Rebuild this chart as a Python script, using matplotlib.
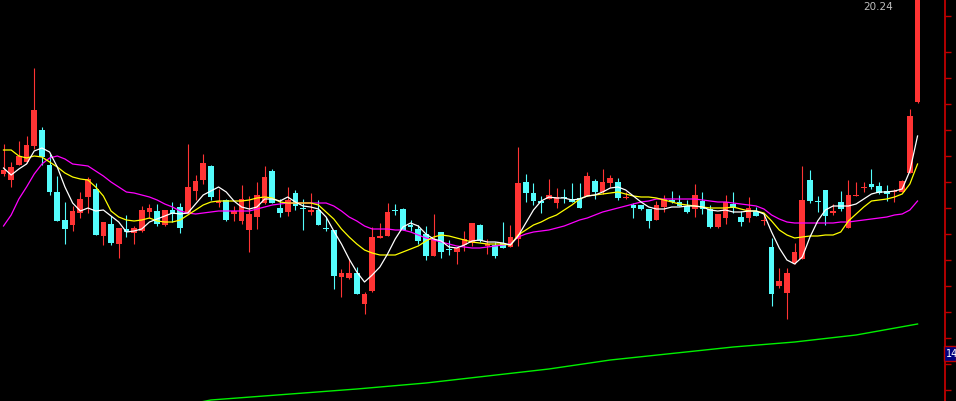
import numpy as np
import matplotlib
matplotlib.use("Agg")
import matplotlib.pyplot as plt
from matplotlib.patches import Rectangle

# ---------------- data ----------------
opens = [16.50, 16.38, 16.68, 16.74, 17.06, 17.38, 16.68, 16.14, 15.58, 15.48,
         15.72, 16.04, 16.20, 15.26, 15.50, 15.10, 15.40, 15.32, 15.36, 15.74,
         15.76, 15.48, 15.78, 15.84, 15.72, 16.16, 16.38, 16.66, 15.92, 15.98,
         15.70, 15.56, 15.38, 15.64, 15.92, 16.56, 15.82, 15.74, 16.12, 15.82,
         15.74, 15.78, 15.42, 15.38, 14.44, 14.42, 14.52, 13.90, 14.16, 15.22,
         15.26, 15.78, 15.80, 15.48, 15.40, 15.30, 14.86, 15.34, 15.00, 14.94,
         15.08, 15.12, 15.48, 15.06, 15.08, 15.12, 15.04, 15.20, 16.34, 16.12,
         15.96, 16.00, 15.92, 16.04, 16.00, 16.02, 16.06, 16.36, 16.14, 16.32,
         16.34, 16.02, 15.88, 15.88, 15.80, 15.58, 15.84, 15.98, 15.94, 15.86,
         15.80, 15.96, 15.80, 15.44, 15.62, 15.90, 15.64, 15.62, 15.76, 15.56,
         15.04, 14.26, 14.12, 14.72, 14.80, 16.38, 15.96, 16.18, 15.72, 15.94,
         15.42, 16.06, 16.22, 16.30, 16.26, 16.16, 16.14, 16.14, 16.52, 17.94]

closes = [16.58, 16.64, 16.86, 17.08, 17.78, 16.84, 16.14, 15.56, 15.40, 15.76,
          16.00, 16.40, 15.28, 15.54, 15.12, 15.42, 15.34, 15.42, 15.78, 15.82,
          15.50, 15.78, 15.70, 15.42, 16.24, 16.36, 16.72, 16.04, 15.96, 15.58,
          15.76, 16.00, 15.70, 16.08, 16.44, 15.92, 15.72, 15.98, 15.86, 15.80,
          15.78, 15.48, 15.40, 14.46, 14.52, 14.52, 14.10, 14.10, 15.24, 15.26,
          15.74, 15.76, 15.38, 15.44, 15.16, 14.86, 15.18, 14.94, 14.98, 15.02,
          15.20, 15.52, 15.16, 15.10, 14.86, 15.02, 15.24, 16.32, 16.12, 15.96,
          15.92, 16.08, 16.04, 16.02, 15.94, 15.82, 16.46, 16.14, 16.34, 16.42,
          16.02, 16.04, 15.82, 15.80, 15.56, 15.88, 16.00, 15.94, 15.86, 15.74,
          16.08, 15.80, 15.44, 15.70, 15.94, 15.82, 15.54, 15.82, 15.66, 15.58,
          14.10, 14.36, 14.52, 14.94, 15.98, 15.96, 15.94, 15.66, 15.76, 15.80,
          16.08, 16.08, 16.24, 16.24, 16.12, 16.10, 16.16, 16.36, 17.66, 20.24]

highs = [17.10, 16.74, 17.16, 17.26, 18.62, 17.44, 16.90, 16.46, 15.94, 15.86,
         16.14, 16.44, 16.32, 15.54, 15.66, 15.42, 15.68, 15.46, 15.86, 15.90,
         15.90, 15.78, 15.94, 15.92, 17.10, 16.48, 16.90, 16.68, 16.20, 16.00,
         15.86, 16.28, 16.06, 16.34, 16.66, 16.60, 16.00, 16.24, 16.18, 16.00,
         16.12, 15.98, 15.64, 15.38, 14.60, 14.80, 14.64, 14.14, 15.44, 15.52,
         15.92, 15.90, 15.82, 15.58, 15.48, 15.46, 15.70, 15.34, 15.18, 15.02,
         15.36, 15.52, 15.50, 15.20, 15.14, 15.54, 15.48, 17.04, 16.50, 16.32,
         16.06, 16.40, 16.22, 16.20, 16.32, 16.32, 16.54, 16.40, 16.60, 16.48,
         16.42, 16.14, 15.92, 15.88, 15.80, 15.96, 16.08, 16.16, 16.08, 15.98,
         16.30, 16.14, 15.88, 15.70, 16.08, 16.14, 15.76, 16.04, 15.84, 15.70,
         15.22, 14.62, 14.62, 15.12, 16.66, 16.58, 16.06, 16.18, 15.90, 16.16,
         16.38, 16.34, 16.34, 16.60, 16.34, 16.28, 16.20, 16.38, 17.80, 20.24]

lows = [16.46, 16.24, 16.68, 16.72, 17.00, 16.68, 16.08, 15.56, 15.10, 15.36,
        15.62, 15.72, 15.28, 15.08, 15.08, 14.82, 15.24, 15.10, 15.34, 15.62,
        15.46, 15.46, 15.54, 15.32, 15.70, 15.98, 16.30, 15.98, 15.84, 15.56,
        15.56, 15.50, 14.94, 15.40, 15.90, 15.92, 15.64, 15.66, 15.78, 15.38,
        15.68, 15.48, 15.36, 14.20, 14.04, 14.40, 14.10, 13.70, 14.14, 15.22,
        15.26, 15.68, 15.38, 15.36, 15.10, 14.78, 14.86, 14.82, 14.88, 14.70,
        14.96, 15.06, 15.14, 14.90, 14.82, 15.02, 15.04, 15.06, 15.94, 15.88,
        15.72, 16.00, 15.82, 15.92, 15.94, 15.82, 16.06, 16.00, 16.10, 16.24,
        15.98, 16.00, 15.62, 15.78, 15.42, 15.58, 15.74, 15.92, 15.86, 15.72,
        15.64, 15.70, 15.42, 15.42, 15.50, 15.72, 15.46, 15.54, 15.66, 15.48,
        13.86, 14.22, 13.60, 14.70, 14.80, 15.92, 15.74, 15.48, 15.68, 15.76,
        15.42, 16.06, 16.14, 16.20, 16.10, 15.96, 15.94, 16.14, 16.52, 17.92]

ma5 = [16.62, 16.48, 16.60, 16.70, 16.96, 17.02, 16.94, 16.64, 16.24, 15.92,
       15.76, 15.82, 15.76, 15.78, 15.66, 15.54, 15.34, 15.36, 15.40, 15.54,
       15.60, 15.66, 15.72, 15.70, 15.72, 15.90, 16.08, 16.16, 16.24, 16.14,
       15.96, 15.84, 15.80, 15.84, 16.00, 16.00, 15.96, 16.04, 15.94, 15.86,
       15.84, 15.80, 15.64, 15.36, 15.10, 14.80, 14.54, 14.34, 14.48, 14.64,
       14.90, 15.20, 15.44, 15.52, 15.46, 15.30, 15.20, 15.16, 15.04, 15.02,
       15.08, 15.16, 15.18, 15.14, 15.14, 15.12, 15.08, 15.26, 15.52, 15.78,
       15.96, 16.04, 16.02, 16.02, 15.98, 16.00, 16.06, 16.08, 16.14, 16.22,
       16.24, 16.18, 16.06, 15.94, 15.84, 15.80, 15.80, 15.84, 15.84, 15.86,
       15.86, 15.84, 15.78, 15.76, 15.78, 15.74, 15.74, 15.76, 15.76, 15.70,
       15.34, 15.02, 14.78, 14.70, 14.84, 15.24, 15.56, 15.78, 15.86, 15.86,
       15.86, 15.90, 16.00, 16.10, 16.14, 16.14, 16.16, 16.20, 16.56, 17.26]

ma10 = [16.98, 16.98, 16.86, 16.82, 16.86, 16.84, 16.74, 16.64, 16.52, 16.44,
        16.40, 16.38, 16.24, 16.06, 15.76, 15.64, 15.58, 15.56, 15.58, 15.62,
        15.56, 15.54, 15.54, 15.58, 15.68, 15.78, 15.88, 15.94, 15.96, 15.96,
        15.96, 15.96, 15.98, 16.02, 16.04, 16.02, 15.94, 15.92, 15.92, 15.92,
        15.92, 15.88, 15.74, 15.60, 15.40, 15.24, 15.10, 14.98, 14.92, 14.88,
        14.88, 14.88, 14.94, 15.00, 15.06, 15.16, 15.24, 15.28, 15.26, 15.22,
        15.18, 15.14, 15.12, 15.10, 15.10, 15.10, 15.08, 15.28, 15.38, 15.48,
        15.54, 15.62, 15.68, 15.78, 15.88, 16.00, 16.06, 16.08, 16.10, 16.12,
        16.14, 16.10, 16.06, 16.04, 16.04, 16.02, 15.98, 15.94, 15.90, 15.88,
        15.86, 15.84, 15.82, 15.82, 15.82, 15.84, 15.80, 15.76, 15.76, 15.72,
        15.56, 15.38, 15.28, 15.22, 15.24, 15.26, 15.26, 15.28, 15.28, 15.34,
        15.56, 15.70, 15.84, 15.96, 15.98, 16.00, 16.04, 16.10, 16.30, 16.70]

ma20 = [15.46, 15.68, 16.00, 16.24, 16.50, 16.70, 16.82, 16.86, 16.80, 16.70,
        16.68, 16.66, 16.56, 16.46, 16.34, 16.24, 16.14, 16.12, 16.08, 16.04,
        15.98, 15.90, 15.84, 15.76, 15.72, 15.70, 15.72, 15.74, 15.76, 15.76,
        15.76, 15.76, 15.76, 15.80, 15.84, 15.88, 15.90, 15.92, 15.92, 15.92,
        15.92, 15.92, 15.92, 15.86, 15.76, 15.64, 15.56, 15.46, 15.40, 15.40,
        15.40, 15.38, 15.38, 15.34, 15.28, 15.22, 15.18, 15.14, 15.10, 15.06,
        15.04, 15.02, 15.02, 15.04, 15.06, 15.08, 15.10, 15.24, 15.30, 15.34,
        15.36, 15.38, 15.42, 15.46, 15.52, 15.58, 15.62, 15.68, 15.74, 15.78,
        15.82, 15.86, 15.90, 15.94, 15.96, 16.00, 16.00, 16.00, 16.00, 16.00,
        16.00, 15.98, 15.96, 15.94, 15.94, 15.92, 15.90, 15.88, 15.86, 15.80,
        15.68, 15.60, 15.54, 15.52, 15.52, 15.52, 15.52, 15.52, 15.52, 15.54,
        15.54, 15.56, 15.58, 15.60, 15.62, 15.64, 15.68, 15.70, 15.78, 15.96]

# long moving average, read at a few candles
ma_long_idx = [25, 27, 46, 55, 71, 79, 95, 103, 111, 119]
ma_long = [11.92, 11.98, 12.20, 12.32, 12.60, 12.78, 13.04, 13.14, 13.28, 13.50]

top_label = "20.24"
box_label = "14"

# ---------------- drawing ----------------
W, H = 956, 402
AX_RIGHT = 945            # pixel position of the price axis
STEP = 7.681              # pixels per candle
X0 = 3.5                  # pixel centre of the first candle
Y_TOP, Y_PER_PX = 20.0, 0.02

fig = plt.figure(figsize=(W / 100, H / 100), dpi=100, facecolor="black")
ax = fig.add_axes([0, 0, AX_RIGHT / W, 1])
ax.set_facecolor("black")

o = np.array(opens); c = np.array(closes)
hi = np.array(highs); lo = np.array(lows)
x = np.arange(len(c))
up = c > o
RED, CYAN = "#FF3434", "#54FCFC"
cols = np.where(up, RED, CYAN)

ax.vlines(x, lo, hi, colors=cols, linewidth=0.8, zorder=2)
body_h = np.maximum(np.abs(c - o), 0.022)
ax.bar(x, body_h, bottom=np.minimum(o, c), width=0.74, color=cols,
       linewidth=0, zorder=3)

ax.plot(x, ma20, color="#FF00FF", lw=0.9, zorder=4)
ax.plot(x, ma10, color="#FFFF00", lw=0.9, zorder=5)
ax.plot(x, ma5, color="#FFFFFF", lw=0.9, zorder=6)
ax.plot(ma_long_idx, ma_long, color="#00F000", lw=1.0, zorder=4)

ax.set_xlim(-X0 / STEP, (AX_RIGHT - X0) / STEP)
ax.set_ylim(Y_TOP - Y_PER_PX * H, Y_TOP)

for s in ["left", "top", "bottom"]:
    ax.spines[s].set_visible(False)
ax.spines["right"].set_color("#C00000")
ax.spines["right"].set_linewidth(1.3)
ax.set_xticks([])
ax.yaxis.tick_right()
tick_px = [17] + [53.3 + 26 * k for k in range(14)]
ax.set_yticks([Y_TOP - Y_PER_PX * p for p in tick_px])
ax.tick_params(axis="y", direction="out", length=4, width=1,
               color="#C00000", labelright=False, labelleft=False)

fig.text(863 / W, 1 - 10 / H, top_label, color="#BEBEBE", fontsize=7.5,
         ha="left", va="baseline")

fig.add_artist(Rectangle((944 / W, (H - 362) / H), 12 / W, 15 / H,
                         transform=fig.transFigure, facecolor="#000080",
                         edgecolor="#C00000", linewidth=1))
fig.text(945.5 / W, (H - 354.5) / H, box_label, color="white", fontsize=7,
         ha="left", va="center")

fig.savefig("out.png", dpi=100, facecolor="black")
